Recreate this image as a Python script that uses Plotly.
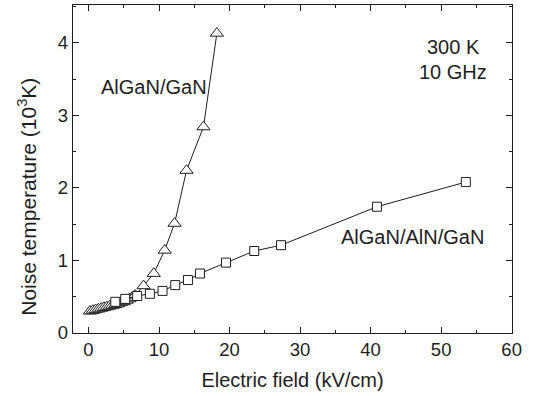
import plotly.graph_objects as go

# AlGaN/GaN channel: electric field (kV/cm) vs noise temperature (10^3 K)
field_gan = [0.2, 0.6, 1.0, 1.4, 1.8, 2.2, 2.6, 3.0, 3.4, 3.8, 4.2, 4.6, 5.0,
             5.4, 5.8, 6.2, 6.6, 7.8, 9.25, 10.8, 12.2, 13.9, 16.3, 18.2]
temp_gan = [0.30, 0.31, 0.32, 0.33, 0.34, 0.35, 0.36, 0.37, 0.38, 0.39, 0.40,
            0.42, 0.43, 0.45, 0.47, 0.49, 0.52, 0.65, 0.82, 1.14, 1.51, 2.24,
            2.84, 4.13]

# AlGaN/AlN/GaN channel
field_aln = [3.8, 5.2, 6.9, 8.7, 10.5, 12.3, 14.1, 15.8, 19.5, 23.5, 27.3,
             40.9, 53.5]
temp_aln = [0.43, 0.47, 0.51, 0.54, 0.58, 0.66, 0.73, 0.82, 0.97, 1.13, 1.21,
            1.74, 2.08]

x_ticks = [0, 10, 20, 30, 40, 50, 60]
y_ticks = [0, 1, 2, 3, 4]

FONT = "Liberation Sans, Arial, sans-serif"
INK = "#1e1e1e"

fig = go.Figure()
# white-filled triangles: the dense low-field points stack into a hatched band
fig.add_trace(go.Scatter(
    x=field_gan, y=temp_gan, mode="lines+markers",
    line=dict(color=INK, width=1),
    marker=dict(symbol="triangle-up", size=11.5, color="white",
                line=dict(color=INK, width=1)),
    showlegend=False))
# white-filled squares drawn on top
fig.add_trace(go.Scatter(
    x=field_aln, y=temp_aln, mode="lines+markers",
    line=dict(color=INK, width=1),
    marker=dict(symbol="square", size=9, color="white",
                line=dict(color=INK, width=1)),
    showlegend=False))

annot = dict(showarrow=False, font=dict(family=FONT, size=20, color=INK))
fig.add_annotation(x=51.7, y=3.94, text="300 K", **annot)
fig.add_annotation(x=51.7, y=3.60, text="10 GHz", **annot)
fig.add_annotation(x=9.35, y=3.39, text="AlGaN/GaN", **annot)
fig.add_annotation(x=45.9, y=1.32, text="AlGaN/AlN/GaN", **annot)

# y-axis title placed as a rotated annotation
fig.add_annotation(
    xref="paper", yref="paper", x=-0.105, y=0.415,
    xanchor="center", yanchor="middle", textangle=-90,
    text="Noise temperature (10<sup>3</sup>K)",
    showarrow=False, font=dict(family=FONT, size=21, color=INK))

axis_common = dict(
    showline=True, linecolor=INK, linewidth=1.3, mirror="ticks",
    ticks="inside", ticklen=6, tickwidth=1.2, tickcolor=INK,
    showgrid=False, zeroline=False,
    tickfont=dict(family=FONT, size=18.5, color=INK),
)

fig.update_xaxes(
    range=[-2.2, 60.05], tickvals=x_ticks,
    minor=dict(dtick=5, ticks="inside", ticklen=3, tickcolor=INK, tickwidth=1),
    title=dict(text="Electric field (kV/cm)", standoff=13,
               font=dict(family=FONT, size=20, color=INK)),
    **axis_common)
fig.update_yaxes(
    range=[0, 4.52], tickvals=y_ticks,
    minor=dict(dtick=0.5, ticks="inside", ticklen=3, tickcolor=INK, tickwidth=1),
    **axis_common)

fig.update_layout(
    width=533, height=396,
    margin=dict(l=73, r=21, t=5, b=63),
    paper_bgcolor="white", plot_bgcolor="white",
    font=dict(family=FONT, color=INK),
)

fig.write_html("out.html")
